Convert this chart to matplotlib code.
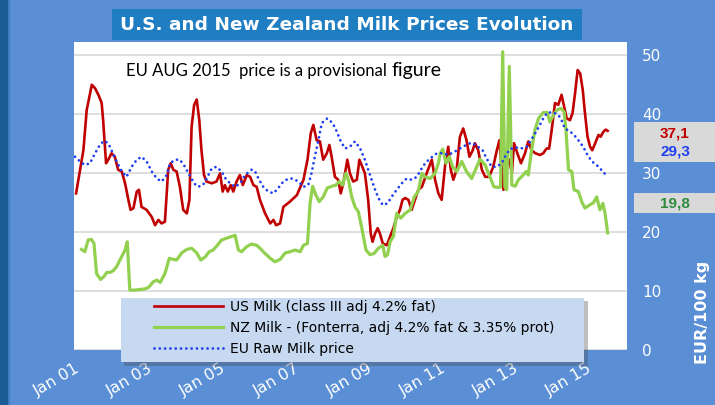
import matplotlib
matplotlib.use("Agg")
import matplotlib.pyplot as plt
from matplotlib.patches import Rectangle

# data (decimal year, EUR/100 kg)
us_years = [2001.03, 2001.14, 2001.23, 2001.32, 2001.46, 2001.55, 2001.64, 2001.73, 2001.77, 2001.85,
            2001.91, 2002.00, 2002.09, 2002.18, 2002.28, 2002.37, 2002.46, 2002.52, 2002.60, 2002.69,
            2002.75, 2002.82, 2002.96, 2003.10, 2003.19, 2003.28, 2003.37, 2003.46, 2003.55, 2003.62,
            2003.69, 2003.78, 2003.87, 2003.96, 2004.06, 2004.13, 2004.19, 2004.26, 2004.33, 2004.40,
            2004.46, 2004.53, 2004.60, 2004.74, 2004.87, 2004.97, 2005.04, 2005.10, 2005.18, 2005.26,
            2005.33, 2005.42, 2005.51, 2005.59, 2005.70, 2005.79, 2005.88, 2005.97, 2006.06, 2006.20,
            2006.34, 2006.43, 2006.50, 2006.61, 2006.70, 2006.88, 2007.07, 2007.25, 2007.36, 2007.45,
            2007.52, 2007.61, 2007.70, 2007.79, 2007.89, 2007.96, 2008.02, 2008.11, 2008.20, 2008.27,
            2008.34, 2008.45, 2008.52, 2008.61, 2008.71, 2008.78, 2008.84, 2008.93, 2009.02, 2009.09,
            2009.14, 2009.21, 2009.28, 2009.34, 2009.42, 2009.53, 2009.62, 2009.71, 2009.80, 2009.89,
            2009.96, 2010.03, 2010.12, 2010.21, 2010.30, 2010.39, 2010.49, 2010.62, 2010.76, 2010.85,
            2010.94, 2011.03, 2011.12, 2011.21, 2011.28, 2011.35, 2011.44, 2011.53, 2011.62, 2011.71,
            2011.79, 2011.88, 2011.94, 2012.03, 2012.13, 2012.22, 2012.33, 2012.44, 2012.54, 2012.61,
            2012.67, 2012.72, 2012.79, 2012.88, 2012.95, 2013.01, 2013.10, 2013.20, 2013.31, 2013.40,
            2013.49, 2013.59, 2013.72, 2013.81, 2013.90, 2013.97, 2014.04, 2014.13, 2014.22, 2014.31,
            2014.38, 2014.45, 2014.54, 2014.61, 2014.68, 2014.75, 2014.82, 2014.89, 2014.95, 2015.02,
            2015.09, 2015.15, 2015.23, 2015.32, 2015.38, 2015.45, 2015.52, 2015.57]
us_vals = [26.5, 30.5, 33.8, 40.6, 44.9, 44.3, 43.2, 41.8, 38.9, 31.6,
           32.2, 33.3, 32.7, 30.5, 30.2, 28.2, 25.4, 23.7, 24.0, 26.8,
           27.1, 24.2, 23.7, 22.5, 21.1, 22.0, 21.4, 21.7, 30.5, 31.6,
           30.5, 30.2, 27.6, 23.7, 23.1, 25.4, 37.8, 41.5, 42.4, 38.9,
           33.8, 29.6, 28.5, 28.2, 28.5, 29.9, 26.8, 27.9, 26.8, 27.9,
           26.8, 28.5, 29.6, 27.9, 29.6, 29.3, 27.9, 27.6, 25.4, 23.1,
           21.4, 22.0, 21.1, 21.4, 24.2, 25.1, 26.2, 28.8, 32.2, 36.7,
           38.1, 35.5, 35.3, 32.2, 33.3, 34.7, 32.7, 29.3, 28.8, 26.5,
           28.2, 32.2, 29.9, 28.5, 28.8, 32.2, 31.3, 29.9, 25.4, 19.7,
           18.3, 19.7, 20.6, 19.7, 18.0, 17.7, 19.2, 20.6, 22.5, 23.7,
           25.4, 25.7, 25.4, 23.7, 25.4, 27.1, 27.6, 29.9, 32.2, 28.8,
           26.5, 25.4, 31.0, 34.4, 30.5, 28.8, 30.5, 36.1, 37.5, 35.5,
           32.7, 33.8, 35.0, 33.8, 30.5, 29.3, 29.3, 31.0, 33.8, 35.5,
           31.0, 27.1, 31.0, 32.2, 29.9, 35.0, 33.3, 31.6, 33.3, 35.3,
           33.8, 33.3, 33.0, 33.3, 34.1, 34.1, 37.2, 41.8, 41.5, 43.2,
           41.2, 39.2, 38.9, 40.1, 43.5, 47.4, 46.8, 44.0, 40.1, 36.1,
           34.4, 33.8, 35.0, 36.4, 36.1, 36.9, 37.3, 37.1]

nz_years = [2001.18, 2001.27, 2001.36, 2001.45, 2001.52, 2001.59, 2001.70, 2001.79, 2001.87, 2001.96,
            2002.05, 2002.14, 2002.28, 2002.37, 2002.43, 2002.50, 2002.64, 2002.78, 2002.91, 2003.02,
            2003.14, 2003.24, 2003.33, 2003.46, 2003.58, 2003.69, 2003.78, 2003.92, 2004.06, 2004.19,
            2004.33, 2004.44, 2004.56, 2004.67, 2004.78, 2004.88, 2005.01, 2005.15, 2005.29, 2005.38,
            2005.47, 2005.56, 2005.70, 2005.83, 2005.97, 2006.06, 2006.20, 2006.34, 2006.47, 2006.61,
            2006.75, 2006.88, 2007.02, 2007.16, 2007.25, 2007.36, 2007.43, 2007.50, 2007.59, 2007.68,
            2007.79, 2007.90, 2008.02, 2008.14, 2008.23, 2008.32, 2008.41, 2008.48, 2008.57, 2008.66,
            2008.75, 2008.84, 2008.96, 2009.07, 2009.18, 2009.30, 2009.42, 2009.48, 2009.55, 2009.62,
            2009.71, 2009.80, 2009.91, 2010.03, 2010.17, 2010.28, 2010.39, 2010.49, 2010.58, 2010.71,
            2010.85, 2010.94, 2010.99, 2011.06, 2011.15, 2011.24, 2011.33, 2011.44, 2011.58, 2011.71,
            2011.85, 2011.99, 2012.08, 2012.22, 2012.35, 2012.46, 2012.58, 2012.64, 2012.70, 2012.76,
            2012.81, 2012.88, 2012.95, 2013.04, 2013.13, 2013.26, 2013.34, 2013.40, 2013.49, 2013.58,
            2013.68, 2013.81, 2013.92, 2013.99, 2014.09, 2014.18, 2014.29, 2014.38, 2014.43, 2014.50,
            2014.59, 2014.65, 2014.77, 2014.86, 2014.95, 2015.07, 2015.18, 2015.27, 2015.36, 2015.44,
            2015.50, 2015.57]
nz_vals = [17.0, 16.6, 18.6, 18.7, 18.0, 12.9, 11.9, 12.4, 13.1, 13.1,
           13.4, 14.1, 15.8, 16.9, 18.3, 10.1, 10.1, 10.2, 10.3, 10.6,
           11.5, 11.8, 11.4, 12.9, 15.5, 15.3, 15.2, 16.4, 17.0, 17.2,
           16.4, 15.2, 15.7, 16.6, 16.9, 17.6, 18.6, 18.9, 19.2, 19.4,
           16.9, 16.6, 17.5, 17.9, 17.7, 17.2, 16.3, 15.5, 14.9, 15.3,
           16.4, 16.6, 16.9, 16.6, 17.7, 18.0, 24.8, 27.7, 26.2, 25.1,
           25.9, 27.4, 27.7, 27.9, 28.5, 27.9, 29.9, 28.8, 25.9, 24.2,
           23.4, 20.8, 16.9, 16.1, 16.3, 17.2, 17.7, 15.8, 16.1, 18.3,
           19.2, 23.1, 22.3, 23.1, 23.7, 25.9, 26.8, 29.9, 29.3, 29.0,
           29.9, 31.6, 33.3, 34.0, 31.6, 32.7, 31.0, 30.2, 31.9, 30.2,
           29.0, 31.0, 32.3, 31.3, 29.3, 27.6, 27.5, 27.6, 50.5, 27.6,
           27.1, 48.0, 27.9, 27.7, 28.8, 29.6, 30.2, 29.6, 33.8, 37.2,
           39.2, 40.2, 40.2, 38.6, 39.8, 40.6, 40.9, 40.3, 37.2, 30.5,
           30.2, 27.1, 26.8, 25.1, 24.0, 24.5, 24.9, 25.9, 23.7, 24.8,
           23.1, 19.8]

eu_years = [2001.00, 2001.14, 2001.27, 2001.41, 2001.55, 2001.68, 2001.79, 2001.91, 2002.00, 2002.14,
            2002.28, 2002.41, 2002.55, 2002.69, 2002.82, 2002.96, 2003.10, 2003.24, 2003.37, 2003.51,
            2003.60, 2003.74, 2003.87, 2004.01, 2004.13, 2004.26, 2004.36, 2004.50, 2004.60, 2004.74,
            2004.87, 2005.01, 2005.12, 2005.24, 2005.38, 2005.52, 2005.65, 2005.83, 2005.92, 2006.02,
            2006.15, 2006.29, 2006.43, 2006.56, 2006.70, 2006.84, 2006.97, 2007.11, 2007.25, 2007.38,
            2007.47, 2007.56, 2007.66, 2007.75, 2007.90, 2008.05, 2008.16, 2008.27, 2008.39, 2008.52,
            2008.66, 2008.80, 2008.93, 2009.07, 2009.21, 2009.30, 2009.42, 2009.55, 2009.66, 2009.80,
            2009.94, 2010.07, 2010.21, 2010.35, 2010.46, 2010.58, 2010.71, 2010.90, 2011.08, 2011.21,
            2011.40, 2011.53, 2011.70, 2011.85, 2012.00, 2012.15, 2012.26, 2012.40, 2012.54, 2012.67,
            2012.79, 2012.90, 2013.04, 2013.20, 2013.36, 2013.47, 2013.59, 2013.70, 2013.81, 2013.92,
            2014.09, 2014.22, 2014.31, 2014.40, 2014.54, 2014.65, 2014.77, 2014.90, 2015.02, 2015.14,
            2015.27, 2015.41, 2015.57]
eu_vals = [32.7, 31.9, 31.3, 31.6, 33.3, 34.7, 35.4, 35.0, 33.8, 31.9,
           30.2, 29.3, 31.0, 32.2, 32.7, 31.9, 30.2, 29.0, 28.5, 29.6,
           31.6, 32.2, 32.2, 31.0, 29.6, 28.2, 27.6, 27.9, 29.0, 30.7,
           31.0, 30.2, 29.0, 28.2, 27.6, 28.2, 29.6, 30.5, 30.3, 29.0,
           27.6, 26.8, 26.5, 27.4, 28.5, 29.0, 29.0, 28.5, 27.6, 27.9,
           29.9, 32.7, 35.5, 38.4, 39.2, 38.4, 37.0, 35.3, 34.1, 34.4,
           35.3, 34.1, 32.2, 29.6, 27.1, 25.7, 24.5, 24.8, 25.9, 27.1,
           28.2, 29.0, 28.8, 29.3, 30.5, 31.6, 32.4, 33.3, 33.3, 33.0,
           33.6, 34.1, 34.7, 35.1, 34.5, 33.8, 32.4, 31.0, 31.0, 31.6,
           33.0, 34.0, 34.3, 34.1, 34.4, 35.5, 36.7, 37.9, 39.2, 40.2,
           40.2, 39.8, 38.9, 37.5, 37.0, 36.4, 35.5, 34.4, 33.0, 31.9,
           31.3, 30.4, 29.3]

tick_years = [2001, 2003, 2005, 2007, 2009, 2011, 2013, 2015]
tick_labels = ["Jan 01", "Jan 03", "Jan 05", "Jan 07", "Jan 09", "Jan 11", "Jan 13", "Jan 15"]
last_labels = ["37,1", "29,3", "19,8"]

bg = "#5A8ED5"
red = "#C00000"
green = "#92D050"
blue = "#1F3FF0"

fig = plt.figure(figsize=(7.15, 4.05), dpi=100, facecolor=bg)
W, H = 715.0, 405.0

def box(x0, y0, x1, y1, color, **kw):
    fig.patches.append(Rectangle((x0 / W, 1 - y1 / H), (x1 - x0) / W, (y1 - y0) / H,
                                 transform=fig.transFigure, facecolor=color, edgecolor="none", **kw))

# left dark strip and title banner
box(0, 0, 8, 405, "#1B5C92")
box(8, 0, 10, 405, "#3E7DC0")
box(112, 9, 582, 40, "#1F7DC1")
fig.text(347 / W, 1 - 25 / H, "U.S. and New Zealand Milk Prices Evolution", color="white",
         fontsize=13.3, fontweight="bold", ha="center", va="center")

ax = fig.add_axes([74 / W, 1 - 349.7 / H, 553 / W, 307.7 / H])
ax.set_facecolor("white")
for s in ax.spines.values():
    s.set_visible(False)

ax.plot(us_years, us_vals, color=red, lw=1.9, label="US Milk (class III adj 4.2% fat)", zorder=3)
ax.plot(nz_years, nz_vals, color=green, lw=2.3, label="NZ Milk - (Fonterra, adj 4.2% fat & 3.35% prot)",
        zorder=4)
ax.plot(eu_years, eu_vals, color=blue, lw=2.0, linestyle=(0, (0.01, 1.9)), dash_capstyle="round",
        label="EU Raw Milk price", zorder=5)

ax.set_xlim(2000.973, 2016.10)
ax.set_ylim(0, 52.15)
ax.set_yticks([0, 10, 20, 30, 40, 50])
ax.yaxis.tick_right()
ax.tick_params(axis="y", length=0, pad=11, labelcolor="white", labelsize=11)
ax.grid(axis="y", color="#D4D4D4", lw=1.1, zorder=0)
ax.set_xticks(tick_years)
ax.set_xticklabels(tick_labels, rotation=30, ha="right", rotation_mode="anchor")
ax.tick_params(axis="x", length=0, pad=8, labelcolor="white", labelsize=11.5)

t1 = fig.text(126 / W, 1 - 76 / H, "EU AUG 2015  price is a provisional ", fontsize=12,
              family="Lato", color="black", va="baseline")
ax.annotate("figure", xy=(1, 0), xycoords=t1, fontsize=14, family="Lato", va="bottom",
            annotation_clip=False)

# legend box with shadow
box(124, 301, 588, 366, "#4A4A4A", alpha=0.35)
box(121, 298, 584, 362, "#C6D9F1")
fig.legend(loc="upper left", bbox_to_anchor=(154 / W, 1 - 300 / H), frameon=False, fontsize=10,
           handlelength=5.0, handletextpad=0.5, labelspacing=0.5, borderpad=0, borderaxespad=0)

# last values on the right
box(634, 122, 715, 162, "#D9D9D9")
box(634, 192.5, 715, 213, "#D9D9D9")
fig.text(675 / W, 1 - 133 / H, last_labels[0], color=red, fontsize=11, fontweight="bold",
         family="Liberation Sans", ha="center", va="center")
fig.text(675 / W, 1 - 152 / H, last_labels[1], color=blue, fontsize=11, fontweight="bold",
         family="Liberation Sans", ha="center", va="center")
fig.text(675 / W, 1 - 203 / H, last_labels[2], color="#2E8B3E", fontsize=11, fontweight="bold",
         family="Liberation Sans", ha="center", va="center")

fig.text(702 / W, 1 - 312 / H, "EUR/100 kg", color="white", fontsize=11.5, fontweight="bold",
         rotation=90, ha="center", va="center")

fig.savefig("out.png", dpi=100, facecolor=bg)
